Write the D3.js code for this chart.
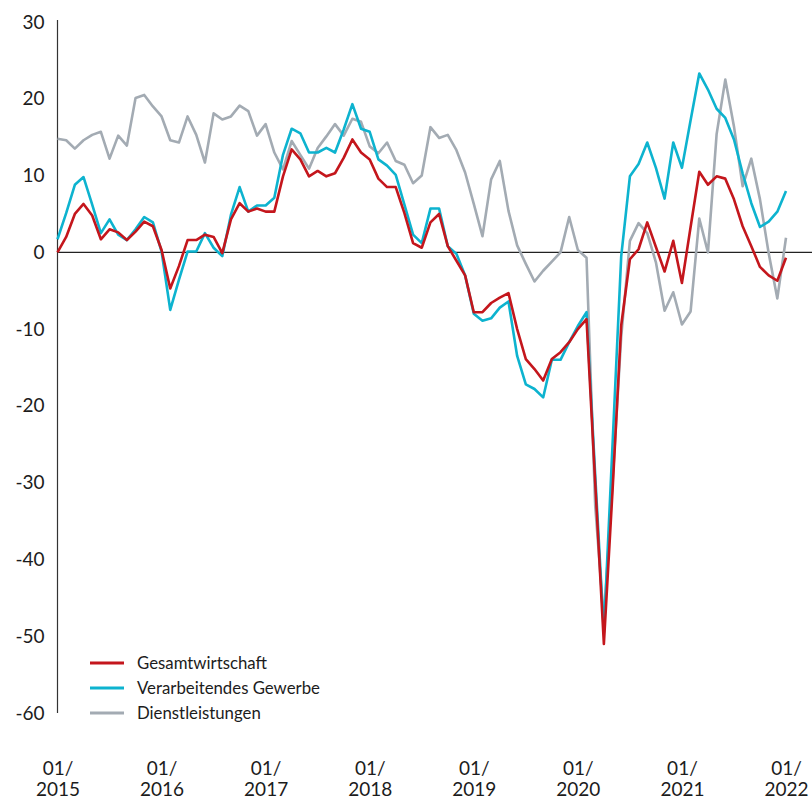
<!DOCTYPE html>
<html>
<head>
<meta charset="utf-8">
<script src="https://cdn.jsdelivr.net/npm/d3@7"></script>
<style>
  body { margin: 0; background: #fff; }
  svg text { font-family: Lato, "Open Sans", sans-serif; fill: #1c1c1c; }
</style>
</head>
<body>
<div class="chart"></div>
<script>
// Monthly values, 01/2015 .. 01/2022 (85 months)
const gesamt = [
  0, 2.0, 5.0, 6.3, 4.8, 1.7, 3.0, 2.6, 1.6, 2.7, 4.0, 3.4,
  0.3, -4.7, -1.8, 1.6, 1.6, 2.3, 2.0, -0.1, 4.3, 6.4, 5.3, 5.7,
  5.3, 5.3, 9.9, 13.4, 12.1, 9.9, 10.6, 9.9, 10.3, 12.3, 14.7, 13.0,
  12.1, 9.6, 8.5, 8.5, 5.1, 1.2, 0.6, 3.9, 5.0, 0.8, -1.1, -3.0,
  -7.8, -7.8, -6.6, -5.9, -5.3, -10.0, -13.9, -15.2, -16.7, -13.9, -13.0, -11.7,
  -10.0, -8.7, -30, -51, -31, -9.5, -0.9, 0.4, 3.9, 0.7, -2.5, 1.5,
  -4.0, 3.3, 10.5, 8.8, 9.9, 9.6, 6.9, 3.4, 0.8, -1.9, -3.0, -3.7,
  -0.7
];
const gewerbe = [
  1.7, 5.1, 8.8, 9.8, 6.2, 2.5, 4.3, 2.3, 1.6, 3.0, 4.6, 3.9,
  0.1, -7.5, -3.6, 0.1, 0.1, 2.5, 0.6, -0.5, 4.9, 8.5, 5.3, 6.1,
  6.1, 7.1, 12.7, 16.1, 15.5, 13.0, 13.0, 13.6, 13.0, 16.0, 19.3, 16.1,
  15.7, 12.1, 11.3, 10.1, 6.2, 2.3, 1.2, 5.7, 5.7, 0.8, -0.2, -3.0,
  -8.0, -8.9, -8.6, -7.2, -6.4, -13.5, -17.2, -17.8, -18.9, -14.0, -14.0, -11.7,
  -9.6, -7.8, -29, -49.5, -25, -0.5, 9.9, 11.5, 14.3, 11.0, 7.0, 14.3,
  11.0, 17.2, 23.3, 21.2, 18.7, 17.5, 14.7, 10.3, 6.4, 3.3, 4.0, 5.3,
  8.0
];
const dienst = [
  14.8, 14.6, 13.5, 14.6, 15.3, 15.7, 12.2, 15.2, 13.9, 20.1, 20.5, 19.0,
  17.7, 14.6, 14.3, 17.7, 15.3, 11.7, 18.1, 17.3, 17.7, 19.1, 18.4, 15.2,
  16.7, 13.0, 10.8, 14.5, 12.7, 10.9, 13.6, 15.1, 16.7, 15.2, 17.4, 17.0,
  13.8, 12.9, 14.3, 11.9, 11.4, 9.0, 10.0, 16.3, 14.9, 15.3, 13.3, 10.4,
  6.3, 2.1, 9.5, 11.9, 5.4, 0.9, -1.5, -3.8, -2.4, -1.2, 0.0, 4.6,
  0.3, -0.7, -33, -48, -30, -11, 1.5, 3.8, 2.5, -1.3, -7.6, -5.2,
  -9.4, -7.7, 4.4, 0.0, 15.4, 22.5, 16.4, 8.6, 12.2, 6.9, -0.1, -6.0,
  1.9
];
const years = ["2015", "2016", "2017", "2018", "2019", "2020", "2021", "2022"];
const yTicks = [30, 20, 10, 0, -10, -20, -30, -40, -50, -60];

const seriesNames  = ["Gesamtwirtschaft", "Verarbeitendes Gewerbe", "Dienstleistungen"];
const seriesColors = ["#c4161c", "#0db3cf", "#a3abb3"];
const seriesData   = [gesamt, gewerbe, dienst];

const W = 812, H = 799;
const plot = { left: 57.5, right: 786, top: 22, bottom: 713 };

const x = d3.scaleLinear().domain([0, gesamt.length - 1]).range([plot.left, plot.right]);
const y = d3.scaleLinear().domain([-60, 30]).range([plot.bottom, plot.top]);

const svg = d3.select(".chart").append("svg")
    .attr("width", W)
    .attr("height", H);

// y axis, plain hyphen for negatives
const yAxis = svg.append("g")
    .attr("transform", "translate(" + plot.left + ",0)")
    .call(d3.axisLeft(y).tickValues(yTicks).tickSize(0).tickPadding(13)
        .tickFormat(d => String(d)));
yAxis.select(".domain").attr("stroke", "#333").attr("stroke-width", 1.2)
    .attr("d", "M0," + (plot.top - 2) + "V" + plot.bottom);
yAxis.selectAll("text")
    .style("font-size", "19px")
    .attr("fill", "#1c1c1c");

// x labels (two lines)
const xAxis = svg.append("g")
    .attr("transform", "translate(0," + plot.bottom + ")")
    .call(d3.axisBottom(x).tickValues(years.map((d, i) => i * 12)).tickSize(0));
xAxis.select(".domain").remove();
xAxis.selectAll("text").each(function(d, i) {
    const t = d3.select(this).text(null)
        .attr("y", 0)
        .attr("dy", null)
        .style("font-size", "19px");
    t.append("tspan").attr("x", 0).attr("y", 62).text("01/");
    t.append("tspan").attr("x", 0).attr("y", 83).text(years[i]);
});

// zero line
svg.append("line")
    .attr("x1", plot.left).attr("x2", W)
    .attr("y1", y(0)).attr("y2", y(0))
    .attr("stroke", "#222").attr("stroke-width", 1.4);

// lines (services drawn first, underneath)
const line = d3.line().x((d, i) => x(i)).y(d => y(d));
[2, 1, 0].forEach(k => {
    svg.append("path")
        .datum(seriesData[k])
        .attr("fill", "none")
        .attr("stroke", seriesColors[k])
        .attr("stroke-width", 2.6)
        .attr("stroke-linejoin", "round")
        .attr("d", line);
});

// legend
const legend = svg.selectAll(".legend")
    .data(seriesNames)
    .enter().append("g")
    .attr("class", "legend")
    .attr("transform", (d, i) => "translate(90," + (663 + i * 25) + ")");
legend.append("line")
    .attr("x1", 0).attr("x2", 34)
    .attr("stroke", (d, i) => seriesColors[i])
    .attr("stroke-width", 3);
legend.append("text")
    .attr("x", 47)
    .attr("dy", "0.35em")
    .style("font-size", "16.8px")
    .text(d => d);
</script>
</body>
</html>
